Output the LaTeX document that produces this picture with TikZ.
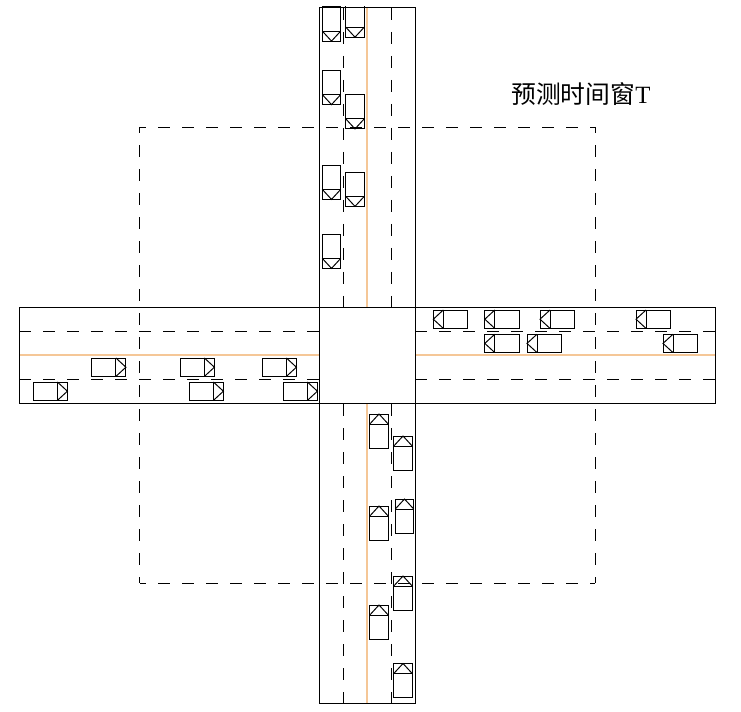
\documentclass[tikz,border=0pt]{standalone}
\usepackage{fontspec}
\setmainfont{Liberation Serif}
\newfontfamily\cjk{Noto Sans CJK SC}
\definecolor{ink}{HTML}{000000}
\definecolor{mid}{HTML}{F5C797}
\tikzset{
  road/.style={draw=ink,line width=0.73pt},
  centre/.style={draw=mid,line width=0.8pt},
  lane/.style={draw=ink,line width=0.73pt,dash pattern=on 9pt off 9pt},
  win/.style={draw=ink,line width=0.73pt,dash pattern=on 9pt off 9pt,dash phase=4.4pt},
  car/.pic={
    \draw[road] (-9.2,-17.2) rectangle (9.2,17.2);
    \draw[road] (-9.2,-7.2) -- (9.2,-7.2);
    \draw[road] (-9.2,-7.2) -- (0,-17.2) -- (9.2,-7.2);
  }
}
\begin{document}
\begin{tikzpicture}[x=0.75pt,y=-0.75pt]
\useasboundingbox (0,0) rectangle (741,712);
% centre lines
\draw[centre] (367,7) -- (367,307);
\draw[centre] (367,403) -- (367,703);
\draw[centre] (19,355) -- (319,355);
\draw[centre] (415,355) -- (715,355);
% lane lines
\draw[lane] (343,8) -- (343,307);
\draw[lane] (391,8) -- (391,307);
\draw[lane] (343,404) -- (343,703);
\draw[lane] (391,404) -- (391,703);
\draw[lane] (19,331) -- (319,331);
\draw[lane] (19,379) -- (319,379);
\draw[lane] (415,331) -- (715,331);
\draw[lane] (415,379) -- (715,379);
% road edges
\draw[road] (319,307) -- (319,7) -- (415,7) -- (415,307);
\draw[road] (319,403) -- (319,703) -- (415,703) -- (415,403);
\draw[road] (319,307) -- (19,307) -- (19,403) -- (319,403);
\draw[road] (415,307) -- (715,307) -- (715,403) -- (415,403);
\draw[road] (319,307) rectangle (415,403);
% prediction window
\draw[win] (140,127) -- (595,127);
\draw[win] (140,583) -- (595,583);
\draw[win] (139.5,127) -- (139.5,583);
\draw[win] (595,127) -- (595,583);
% cars going down (top road), the first two cut off by the road end
\begin{scope}
  \clip (319,7) rectangle (415,60);
  \pic[rotate=180] at (331.5,23.9) {car};
  \pic[rotate=180] at (355,20) {car};
\end{scope}
\foreach \x/\y in {331.5/87.4,355/111.7,331.5/182.2,355/189.2,331.5/251.2}
  \pic[rotate=180] at (\x,\y) {car};
% cars going up (bottom road)
\foreach \x/\y in {379/431.2,403/453.2,404.5/516.2,379/523.2,403/593.2,379/622.2,403/680.7}
  \pic at (\x,\y) {car};
% cars going left (right road)
\foreach \x/\y in {450.5/319.2,502/319.2,557.2/319.2,653.2/319.2,502/343.4,544.2/343.4,680.2/343.4}
  \pic[rotate=90] at (\x,\y) {car};
% cars going right (left road)
\foreach \x/\y in {108.7/367.2,197.2/367.2,279.2/367.2,50.2/391.2,206.2/391.2,300.2/391.2}
  \pic[rotate=-90] at (\x,\y) {car};
\node[anchor=west,inner sep=0pt,font=\fontsize{18.6pt}{20pt}\selectfont] (label) at (511,94) {{\cjk 预测时间窗}T};
\end{tikzpicture}
\end{document}
